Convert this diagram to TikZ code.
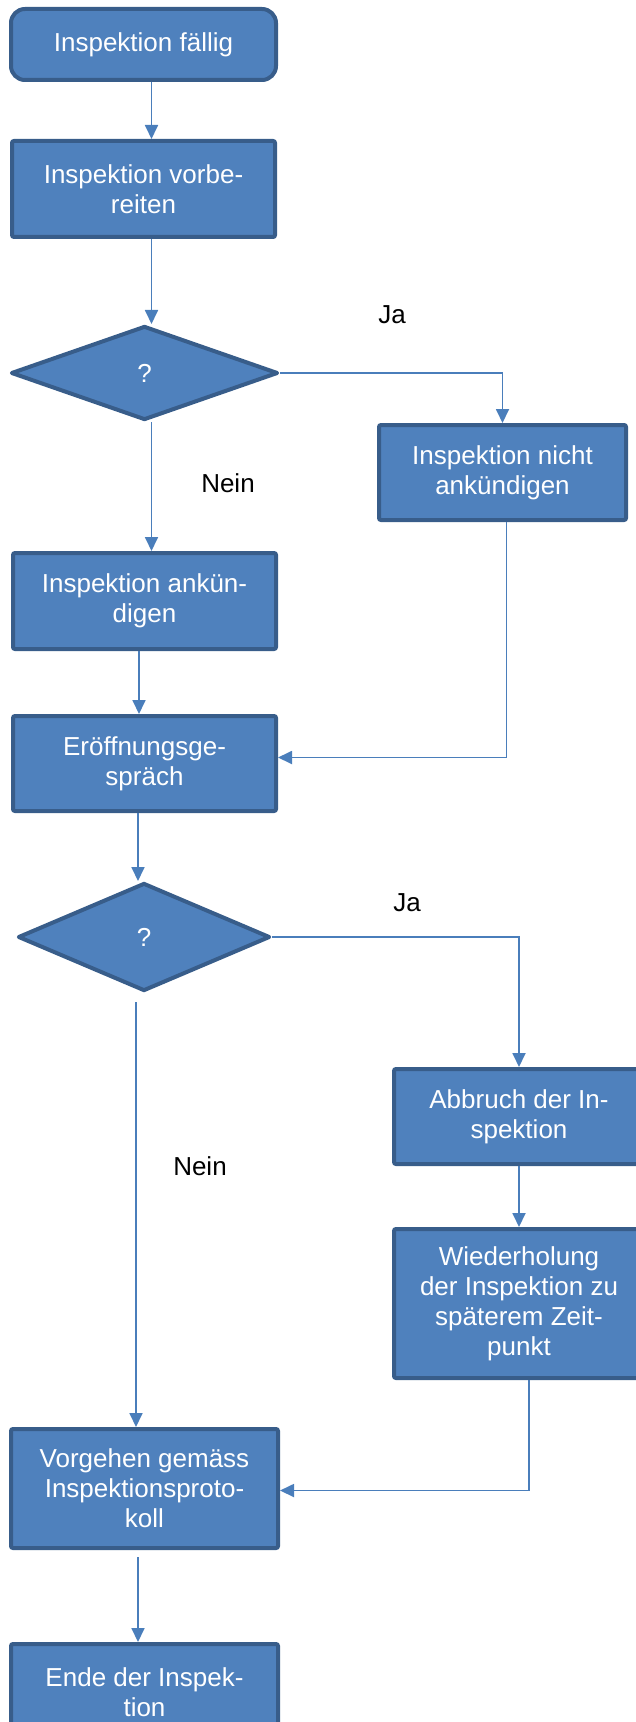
\documentclass[tikz,border=0pt]{standalone}
\usepackage{fontspec}
\setmainfont{Liberation Sans}
\usepackage{tikz}
\usetikzlibrary{calc,arrows.meta,shapes.geometric}
\definecolor{boxfill}{RGB}{79,129,189}
\definecolor{boxline}{RGB}{56,93,138}
\definecolor{flowline}{RGB}{74,126,187}
\tikzset{
    process box/.style={
        draw=boxline,line width=2pt,rounded corners=1pt,
        fill=boxfill,text=white,align=center,inner sep=0pt,
        minimum width=131.5pt,minimum height=48pt,
        font=\fontsize{13}{15}\selectfont
    },
    decision/.style={
        diamond,draw=boxline,line width=2pt,line join=round,
        fill=boxfill,text=white,inner sep=0pt,
        font=\fontsize{13}{15}\selectfont
    },
    answer/.style={font=\fontsize{13}{15}\selectfont},
    flow line/.style={draw=flowline,line width=0.9pt},
    >={Triangle[width=6.5pt,length=7pt]}
}
\begin{document}
\begin{tikzpicture}[x=0.5pt,y=-0.5pt]
\useasboundingbox (0,0) rectangle (636,1722);
\clip (0,0) rectangle (636,1722);
% main column
\node[process box,rounded corners=7pt,minimum width=132.5pt,minimum height=35.5pt] (faellig) at (143.5,44.5) {Inspektion fällig};
\node[process box] (vorbereiten) at (143.5,189) {Inspektion vorbe-\\reiten};
\node[decision,minimum width=133.5pt,minimum height=47pt] (frage1) at (144.5,373) {?};
\node[process box] (ankuendigen) at (144.5,601) {Inspektion ankün-\\digen};
\node[process box,minimum height=47.5pt] (eroeffnung) at (144.5,763.5) {Eröffnungsge-\\spräch};
\node[decision,minimum width=126pt,minimum height=54pt] (frage2) at (144,937) {?};
\node[process box,minimum width=133.5pt,minimum height=59.5pt] (vorgehen) at (144.5,1488.5) {Vorgehen gemäss\\Inspektionsproto-\\koll};
\node[process box,minimum width=133.5pt] (ende) at (144.5,1692) {Ende der Inspek-\\tion};
% right column
\node[process box,minimum width=123.5pt,minimum height=47.5pt] (nicht) at (502.5,472.5) {Inspektion nicht\\ankündigen};
\node[process box,minimum width=125pt,minimum height=47.5pt] (abbruch) at (519,1116.5) {Abbruch der In-\\spektion};
\node[process box,minimum width=125pt,minimum height=74.5pt] (wiederholung) at (519,1303.5) {Wiederholung\\der Inspektion zu\\späterem Zeit-\\punkt};
% answers
\node[answer] (ja1) at (392,315) {Ja};
\node[answer] (nein1) at (228,483) {Nein};
\node[answer] (ja2) at (407,903) {Ja};
\node[answer] (nein2) at (200,1166) {Nein};
% connectors
\draw[flow line,->] ([xshift=4pt]faellig.south) -- ([xshift=4pt]faellig.south |- vorbereiten.north);
\draw[flow line,->] ([xshift=4pt]vorbereiten.south) -- ([xshift=4pt]vorbereiten.south |- frage1.north);
\draw[flow line,->] ([xshift=3.5pt]frage1.south) -- ([xshift=3.5pt]frage1.south |- ankuendigen.north);
\draw[flow line,->] (frage1.east) -| (nicht.north);
\draw[flow line,->] ([xshift=-2.75pt]ankuendigen.south) -- ([xshift=-2.75pt]ankuendigen.south |- eroeffnung.north);
\draw[flow line,->] ([xshift=2pt]nicht.south) |- ([yshift=3pt]eroeffnung.east);
\draw[flow line,->] ([xshift=-3.25pt]eroeffnung.south) -- ([xshift=-3.25pt]eroeffnung.south |- frage2.north);
\draw[flow line,->] (frage2.east) -| (abbruch.north);
\draw[flow line,->] (abbruch) -- (wiederholung);
\draw[flow line,->,shorten <=4.5pt] ([xshift=-4pt]frage2.south) -- ([xshift=-4pt]frage2.south |- vorgehen.north);
\draw[flow line,->] ([xshift=5pt]wiederholung.south) |- ([yshift=-1pt]vorgehen.east);
\draw[flow line,->,shorten <=3.5pt] ([xshift=-3.25pt]vorgehen.south) -- ([xshift=-3.25pt]vorgehen.south |- ende.north);
\end{tikzpicture}
\end{document}
